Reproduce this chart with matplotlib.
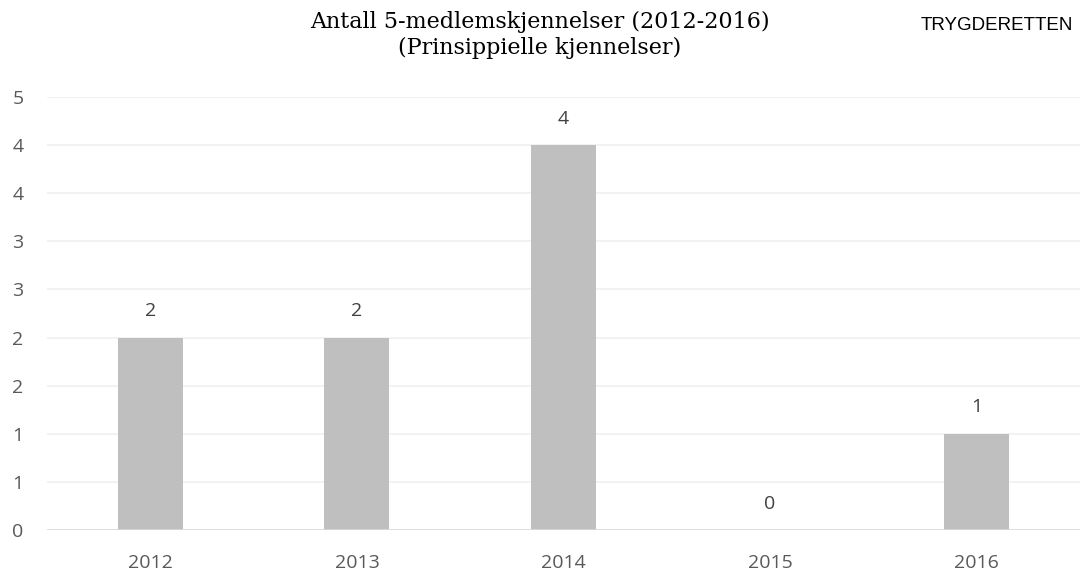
import matplotlib.pyplot as plt
from matplotlib.ticker import FuncFormatter
import numpy as np

years = ["2012", "2013", "2014", "2015", "2016"]
counts = [2, 2, 4, 0, 1]
y_ticks = [0, 0.5, 1, 1.5, 2, 2.5, 3, 3.5, 4, 4.5]

title = "Antall 5-medlemskjennelser (2012-2016)\n(Prinsippielle kjennelser)"
source = "TRYGDERETTEN"

plt.rcParams['font.family'] = ['Open Sans', 'DejaVu Sans']

fig = plt.figure(figsize=(10.8, 5.7), dpi=100)
ax = fig.add_axes([0.0435, 0.0702, 0.9565, 0.7596])

x = np.arange(len(years))
ax.bar(x, counts, width=0.314, color="#BFBFBF", zorder=3)

for xi, c in zip(x, counts):
    ax.annotate(str(c), (xi, c), xytext=(0, 19), textcoords="offset points",
                ha="center", va="center", fontsize=14, color="#404040")

ax.set_xlim(-0.5, len(years) - 0.5)
ax.set_ylim(0, 4.5)
ax.set_xticks(x, years)
ax.set_yticks(y_ticks)
# Excel style 0-decimal labels (round half up)
ax.yaxis.set_major_formatter(FuncFormatter(lambda v, p: str(int(np.floor(v + 0.5)))))
ax.grid(axis="y", color="#F0F0F0", linewidth=1.2, zorder=0)
ax.axhline(0, color="#D9D9D9", linewidth=1.2, zorder=4)
for s in ax.spines.values():
    s.set_visible(False)
ax.tick_params(length=0, labelsize=14, labelcolor="#595959")
ax.tick_params(axis="y", pad=25)
ax.tick_params(axis="x", pad=17)
for lbl in ax.get_yticklabels():
    lbl.set_horizontalalignment("left")

fig.text(0.5, 0.98, title, ha="center", va="top", fontsize=16,
         family="DejaVu Serif", color="#000000", linespacing=1.22)
fig.text(0.9935, 0.956, source, ha="right", va="center", fontsize=13.5,
         family="Liberation Sans", color="#000000")

fig.savefig("out.png", dpi=100)
